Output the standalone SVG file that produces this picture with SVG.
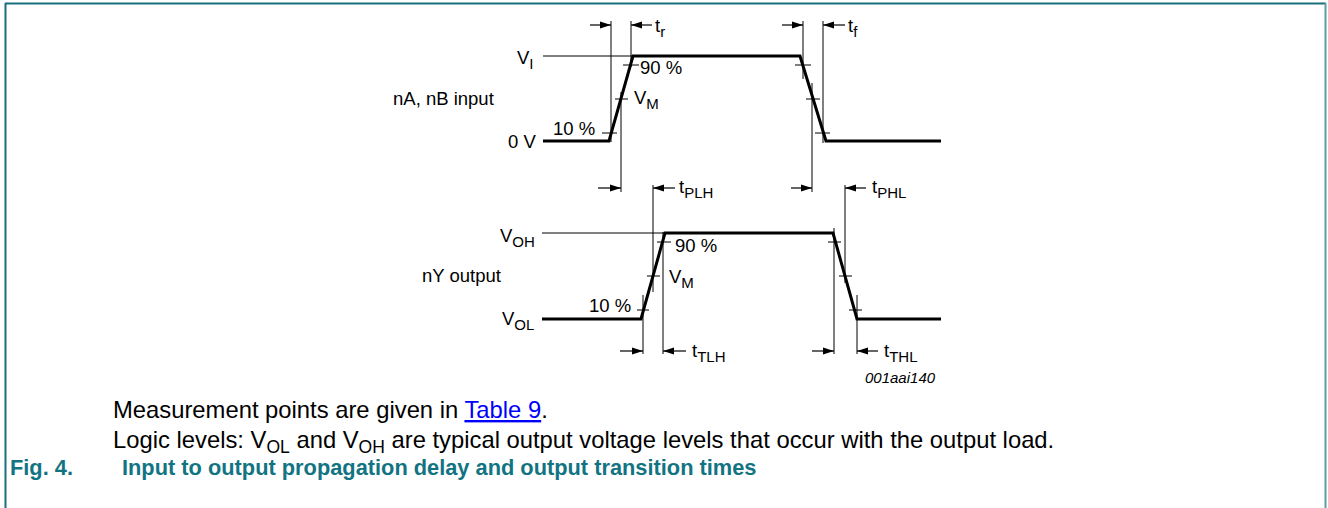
<svg xmlns="http://www.w3.org/2000/svg" width="1328" height="508" viewBox="0 0 1328 508">
<style>
.lbl{font-family:"Liberation Sans",Arial,sans-serif;font-size:18.5px;fill:#000}
.sub{font-size:15px}
.body{font-family:"Liberation Sans",Arial,sans-serif;font-size:23.8px;fill:#000}
.bsub{font-size:17.5px}
.cap{font-family:"Liberation Sans",Arial,sans-serif;font-size:21.8px;font-weight:bold;fill:#127482}
.wave{fill:none;stroke:#000;stroke-width:3;stroke-linejoin:miter}
.thin{fill:none;stroke:#000;stroke-width:1}
.arr{fill:none;stroke:#000;stroke-width:1.2;marker-end:url(#ah)}
</style>
<defs>
<marker id="ah" markerUnits="userSpaceOnUse" markerWidth="11" markerHeight="8" refX="11" refY="4" orient="auto">
<path d="M0,0.5 L11,4 L0,7.5 z" fill="#000"/>
</marker>
</defs>
<rect x="0" y="0" width="1328" height="508" fill="#fff"/>
<g id="frame">
<line x1="5" y1="3.5" x2="1326" y2="3.5" stroke="#1a6f7c" stroke-width="2"/>
<line x1="5.5" y1="3" x2="5.5" y2="508" stroke="#1a6f7c" stroke-width="2"/>
<line x1="1325.5" y1="3" x2="1325.5" y2="508" stroke="#5a9fa9" stroke-width="2"/>
</g>
<g id="connectors">
<polyline class="wave" points="543,141 609,141 633,56 800,56 826,141 941,141"/>
<line class="thin" x1="543" y1="56" x2="633" y2="56"/>
<line class="thin" x1="611" y1="21" x2="611" y2="142"/>
<line class="thin" x1="631" y1="21" x2="631" y2="67"/>
<line class="thin" x1="621" y1="92" x2="621" y2="192"/>
<line class="thin" x1="602" y1="133" x2="617" y2="133"/>
<line class="thin" x1="615" y1="99" x2="628" y2="99"/>
<line class="thin" x1="623" y1="65" x2="639" y2="65"/>
<line class="thin" x1="803" y1="21" x2="803" y2="79"/>
<line class="thin" x1="823" y1="21" x2="823" y2="143"/>
<line class="thin" x1="812" y1="83" x2="812" y2="192"/>
<line class="thin" x1="795" y1="65" x2="811" y2="65"/>
<line class="thin" x1="806" y1="99" x2="820" y2="99"/>
<line class="thin" x1="815" y1="133" x2="830" y2="133"/>
<line class="arr" x1="590" y1="25" x2="611" y2="25"/>
<line class="arr" x1="652" y1="25" x2="631" y2="25"/>
<line class="arr" x1="782" y1="25" x2="803" y2="25"/>
<line class="arr" x1="845" y1="25" x2="823" y2="25"/>
<line class="arr" x1="598" y1="188" x2="621" y2="188"/>
<line class="arr" x1="675" y1="188" x2="653" y2="188"/>
<line class="arr" x1="791" y1="188" x2="812" y2="188"/>
<line class="arr" x1="866" y1="188" x2="845" y2="188"/>
<polyline class="wave" points="542,319 641,319 665,233 833,233 857,319 941,319"/>
<line class="thin" x1="542" y1="233" x2="665" y2="233"/>
<line class="thin" x1="643" y1="295" x2="643" y2="354"/>
<line class="thin" x1="663" y1="232" x2="663" y2="354"/>
<line class="thin" x1="653" y1="185" x2="653" y2="292"/>
<line class="thin" x1="637" y1="310" x2="649" y2="310"/>
<line class="thin" x1="647" y1="276" x2="660" y2="276"/>
<line class="thin" x1="657" y1="242" x2="671" y2="242"/>
<line class="thin" x1="834" y1="228" x2="834" y2="354"/>
<line class="thin" x1="857" y1="295" x2="857" y2="354"/>
<line class="thin" x1="845" y1="185" x2="845" y2="283"/>
<line class="thin" x1="828" y1="242" x2="841" y2="242"/>
<line class="thin" x1="839" y1="276" x2="852" y2="276"/>
<line class="thin" x1="849" y1="310" x2="862" y2="310"/>
<line class="arr" x1="620" y1="351" x2="643" y2="351"/>
<line class="arr" x1="686" y1="351" x2="663" y2="351"/>
<line class="arr" x1="812" y1="351" x2="834" y2="351"/>
<line class="arr" x1="878" y1="351" x2="857" y2="351"/>
</g>
<g id="input-labels">
<text class="lbl" x="517" y="64">V<tspan class="sub" dy="5">I</tspan></text>
<text class="lbl" x="640" y="74">90 %</text>
<text class="lbl" x="634" y="104">V<tspan class="sub" dy="5">M</tspan></text>
<text class="lbl" x="553" y="135">10 %</text>
<text class="lbl" x="508" y="148">0 V</text>
<text class="lbl" x="393" y="105">nA, nB input</text>
<text class="lbl" x="655" y="32">t<tspan class="sub" dy="5">r</tspan></text>
<text class="lbl" x="848" y="32">t<tspan class="sub" dy="5">f</tspan></text>
</g>
<g id="output-labels">
<text class="lbl" x="500" y="242">V<tspan class="sub" dy="5">OH</tspan></text>
<text class="lbl" x="422" y="282">nY output</text>
<text class="lbl" x="502" y="325">V<tspan class="sub" dy="5">OL</tspan></text>
<text class="lbl" x="589" y="312">10 %</text>
<text class="lbl" x="675" y="252">90 %</text>
<text class="lbl" x="669" y="283">V<tspan class="sub" dy="5">M</tspan></text>
<text class="lbl" x="679" y="193">t<tspan class="sub" dy="5">PLH</tspan></text>
<text class="lbl" x="872" y="193">t<tspan class="sub" dy="5">PHL</tspan></text>
<text class="lbl" x="692" y="357">t<tspan class="sub" dy="5">TLH</tspan></text>
<text class="lbl" x="884" y="357">t<tspan class="sub" dy="5">THL</tspan></text>
<text class="lbl" x="865" y="383" style="font-size:15px;font-style:italic">001aai140</text>
</g>
<g id="notes">
<text class="body" x="113" y="418">Measurement points are given in <tspan fill="#0000ff" text-decoration="underline">Table 9</tspan>.</text>
<text class="body" x="113" y="448">Logic levels: V<tspan class="bsub" dy="5">OL</tspan><tspan dy="-5"> and V</tspan><tspan class="bsub" dy="5">OH</tspan><tspan dy="-5"> are typical output voltage levels that occur with the output load.</tspan></text>
</g>
<g id="caption">
<text class="cap" x="10" y="475">Fig. 4.</text>
<text class="cap" x="122" y="475">Input to output propagation delay and output transition times</text>
</g>
</svg>
